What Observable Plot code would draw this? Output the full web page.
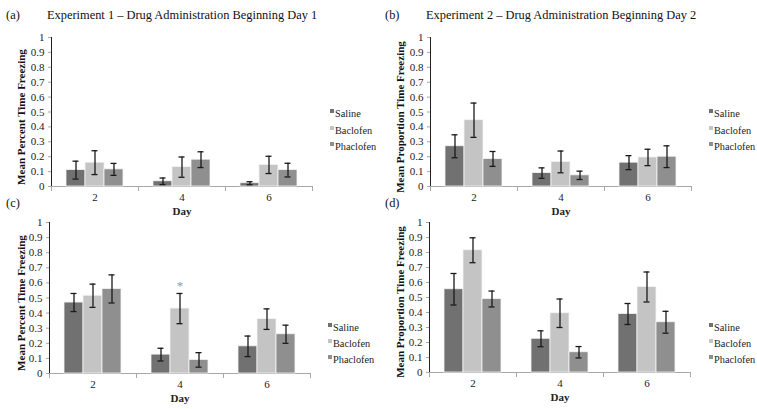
<!DOCTYPE html>
<html>
<head>
<meta charset="utf-8">
<script src="https://cdn.jsdelivr.net/npm/d3@7"></script>
<script src="https://cdn.jsdelivr.net/npm/@observablehq/plot@0.6"></script>
<style>
  body { margin: 0; background: #fff; }
  #root { position: relative; width: 757px; height: 409px; overflow: hidden; font-family: "Liberation Serif", "Times New Roman", serif; }
  .abs { position: absolute; }
  .title { font-size: 12.4px; color: #111; white-space: nowrap; line-height: 14px; }
  .leg { font-size: 10.3px; color: #222; white-space: nowrap; line-height: 12px; }
  .sw { display: inline-block; width: 4px; height: 4px; margin-right: 1px; vertical-align: 4px; }
  .ylab { font-size: 11px; font-weight: bold; color: #111; white-space: nowrap; line-height: 12px; text-align: center; width: 180px; transform: rotate(-90deg); }
  svg [aria-label="fx-axis label"] text { font-weight: bold; }
  svg [aria-label="y-axis tick"] path { stroke: #a8a8a8; }
</style>
</head>
<body>
<div id="root"></div>
<script>
// ---- data ----
const days = ["2", "4", "6"];
const drugs = ["Saline", "Baclofen", "Phaclofen"];
const colors = ["#717171", "#c4c4c4", "#8f8f8f"];
const yTicks = [0, 0.1, 0.2, 0.3, 0.4, 0.5, 0.6, 0.7, 0.8, 0.9, 1];

const titles = ["Experiment 1 \u2013 Drug Administration Beginning Day 1", "Experiment 2 \u2013 Drug Administration Beginning Day 2"];
const panelTags = ["(a)", "(b)", "(c)", "(d)"];
const yLabels = ["Mean Percent Time Freezing", "Mean Proportion Time Freezing", "Mean Percent Time Freezing", "Mean Proportion Time Freezing"];
const xLabel = "Day";

// means: rows = drugs (Saline, Baclofen, Phaclofen), columns = days (2, 4, 6)
const aMean = [[0.11, 0.035, 0.022], [0.16, 0.13, 0.145], [0.115, 0.18, 0.11]];
const aErr  = [[0.06, 0.022, 0.01], [0.08, 0.068, 0.058], [0.04, 0.053, 0.046]];
const bMean = [[0.27, 0.09, 0.16], [0.445, 0.165, 0.195], [0.185, 0.075, 0.20]];
const bErr  = [[0.077, 0.035, 0.047], [0.115, 0.073, 0.055], [0.05, 0.028, 0.073]];
const cMean = [[0.47, 0.125, 0.18], [0.515, 0.43, 0.36], [0.56, 0.09, 0.26]];
const cErr  = [[0.06, 0.042, 0.068], [0.077, 0.10, 0.068], [0.093, 0.048, 0.06]];
const dMean = [[0.555, 0.225, 0.39], [0.815, 0.395, 0.57], [0.49, 0.135, 0.335]];
const dErr  = [[0.105, 0.053, 0.07], [0.083, 0.095, 0.10], [0.053, 0.038, 0.073]];
const cMarks = [{day: "4", drug: "Baclofen", y: 0.58, text: "*"}];

// ---- helpers ----
function rows(mean, err) {
  const r = [];
  days.forEach((d, i) => drugs.forEach((g, j) => r.push({
    day: d, drug: g, mean: mean[j][i], lo: mean[j][i] - err[j][i], hi: mean[j][i] + err[j][i]
  })));
  return r;
}

const root = document.getElementById("root");
function place(el, left, top) {
  el.classList.add("abs");
  el.style.left = left + "px";
  el.style.top = top + "px";
  root.appendChild(el);
  return el;
}
function textDiv(cls, txt, left, top) {
  const d = document.createElement("div");
  d.className = cls;
  d.textContent = txt;
  return place(d, left, top);
}

function panel(p) {
  const data = rows(p.mean, p.err);
  const plotH = p.y0 - p.y1;
  const marks = [
    Plot.frame({anchor: "left", stroke: "#a8a8a8", insetTop: plotH, insetBottom: -4}),
    Plot.frame({anchor: "right", stroke: "#a8a8a8", insetTop: plotH, insetBottom: -4}),
    Plot.ruleY([0], {stroke: "#a8a8a8"}),
    Plot.barY(data, {fx: "day", x: "drug", y: "mean", fill: "drug", stroke: "#f4f4f4", strokeWidth: 0.8}),
    Plot.ruleX(data, {fx: "day", x: "drug", y1: "lo", y2: "hi", stroke: "#1a1a1a", strokeWidth: 1.3}),
    Plot.tickY(data, {fx: "day", x: "drug", y: "lo", stroke: "#1a1a1a", strokeWidth: 1.3, insetLeft: 6.5, insetRight: 6.5}),
    Plot.tickY(data, {fx: "day", x: "drug", y: "hi", stroke: "#1a1a1a", strokeWidth: 1.3, insetLeft: 6.5, insetRight: 6.5})
  ];
  if (p.notes) marks.push(Plot.text(p.notes, {fx: "day", x: "drug", y: "y", text: "text", fill: "#999999", fontSize: 13}));
  const svg = Plot.plot({
    width: p.width, height: p.height,
    marginLeft: p.ml, marginRight: p.mr, marginTop: p.mt, marginBottom: p.height - p.mt - plotH,
    style: {fontFamily: '"Liberation Serif", "Times New Roman", serif', fontSize: "11px", background: "none", color: "#222", overflow: "visible"},
    fx: {domain: days, padding: 0, tickSize: 0, tickPadding: 7, label: xLabel, labelAnchor: "center", labelOffset: 28},
    x: {domain: drugs, paddingInner: 0, paddingOuter: 0.71, axis: null},
    y: {domain: [0, 1], ticks: yTicks, tickSize: 3, tickPadding: 4, tickFormat: d => String(+d.toFixed(1)),
        label: null, line: true},
    color: {domain: drugs, range: colors},
    marks
  });
  place(svg, p.left, p.top);
  // rotated y label (HTML)
  textDiv("ylab", p.ylab, p.left + p.ylx - 90, (p.y0 + p.y1) / 2 + 5 - 6);
  // legend
  drugs.forEach((g, j) => {
    const row = document.createElement("div");
    row.className = "leg";
    const sw = document.createElement("span");
    sw.className = "sw";
    sw.style.background = colors[j];
    row.appendChild(sw);
    row.appendChild(document.createTextNode(g));
    place(row, p.legX, p.legY[j] - 6);
  });
}

// ---- panels ----
panel({mean: aMean, err: aErr, ylab: yLabels[0], left: 0, top: 28, width: 318, height: 190, ml: 50, mr: 6, mt: 9, y1: 37, y0: 186, ylx: 21, legX: 330, legY: [114, 131, 147]});
panel({mean: bMean, err: bErr, ylab: yLabels[1], left: 378, top: 28, width: 319, height: 190, ml: 51, mr: 6, mt: 9, y1: 37, y0: 186, ylx: 22, legX: 709, legY: [114, 131, 147]});
panel({mean: cMean, err: cErr, ylab: yLabels[2], left: 0, top: 213, width: 316, height: 192, ml: 49, mr: 6, mt: 9, y1: 222, y0: 373, ylx: 21, legX: 328, legY: [328, 344, 360], notes: cMarks});
panel({mean: dMean, err: dErr, ylab: yLabels[3], left: 378, top: 213, width: 319, height: 192, ml: 50, mr: 6, mt: 9, y1: 222, y0: 372, ylx: 22, legX: 709, legY: [328, 344, 360]});

// ---- titles ----
textDiv("title", panelTags[0], 6, 8);
textDiv("title", titles[0], 47, 8);
textDiv("title", panelTags[1], 385, 8);
textDiv("title", titles[1], 426, 8);
textDiv("title", panelTags[2], 6, 196);
textDiv("title", panelTags[3], 385, 196);
</script>
</body>
</html>
